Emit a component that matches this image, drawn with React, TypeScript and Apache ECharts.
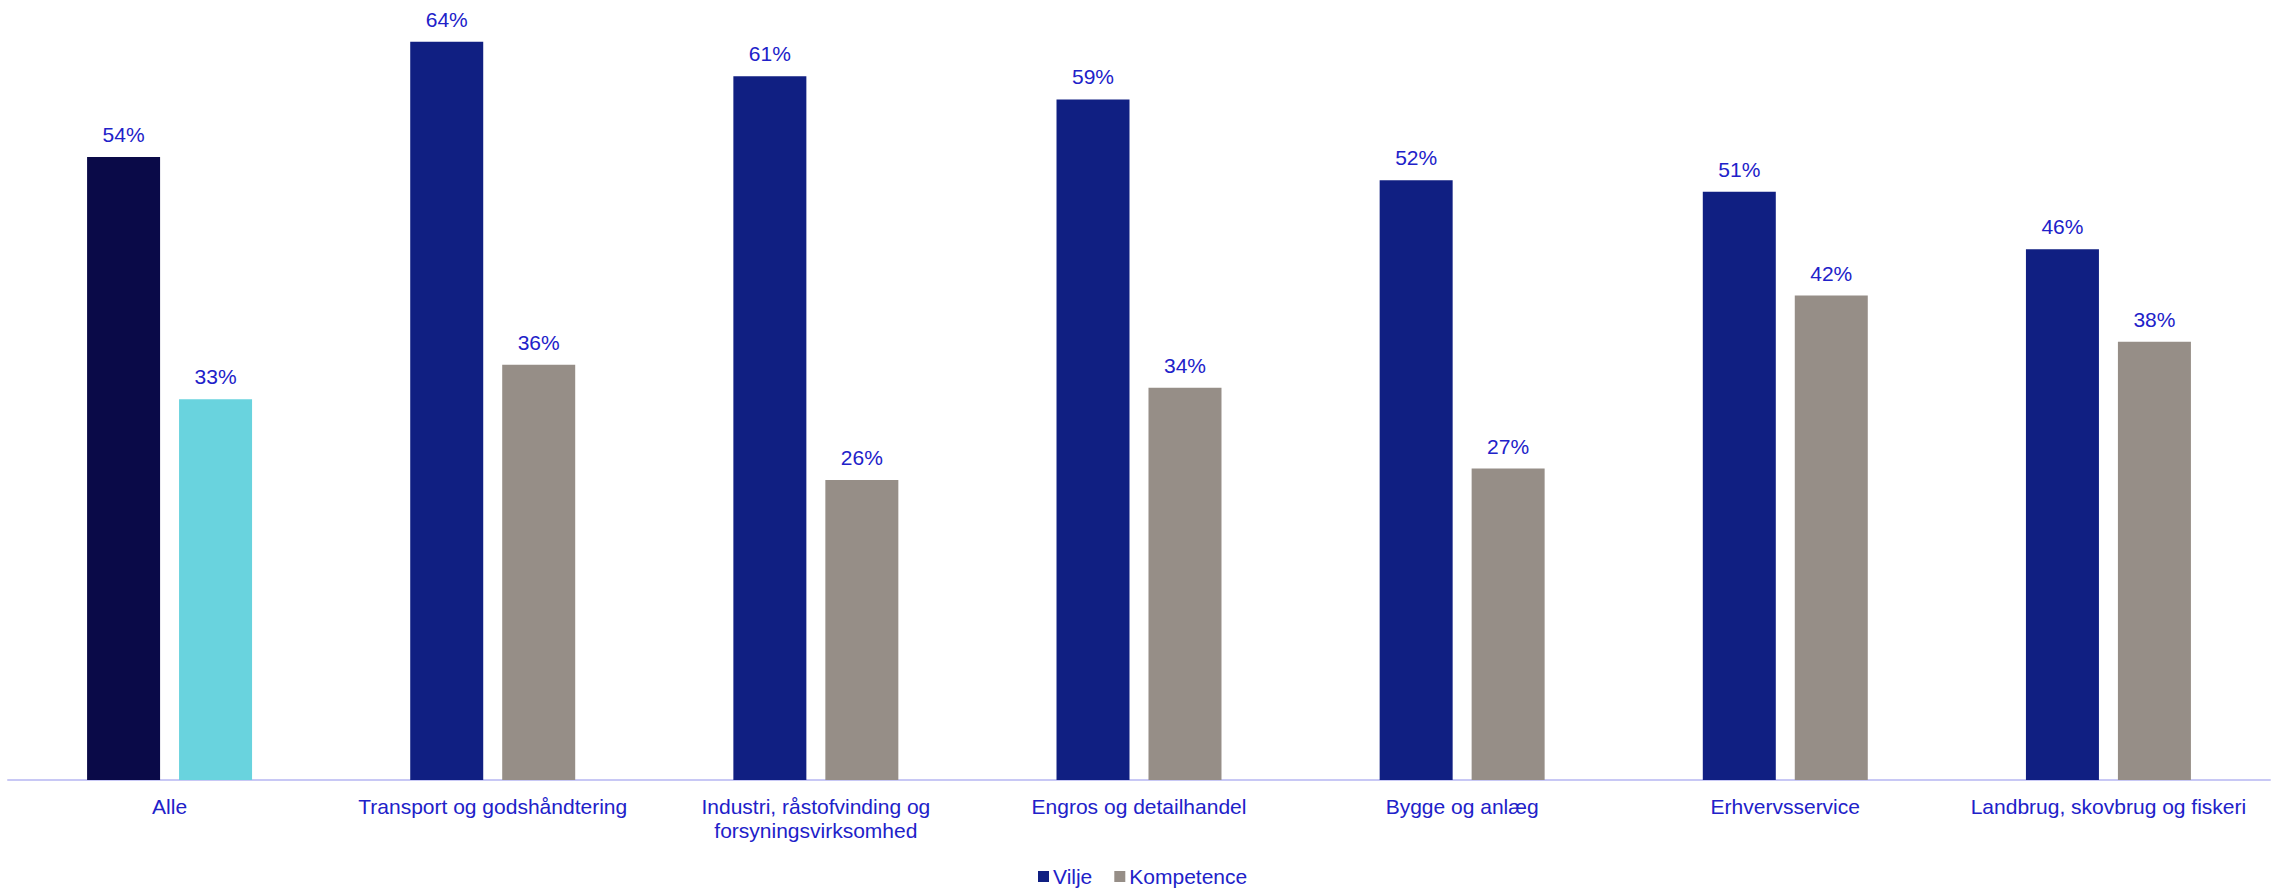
import React, { useEffect, useRef } from "react";
import * as echarts from "echarts";

const categories = [
  "Alle",
  "Transport og godshåndtering",
  "Industri, råstofvinding og\nforsyningsvirksomhed",
  "Engros og detailhandel",
  "Bygge og anlæg",
  "Erhvervsservice",
  "Landbrug, skovbrug og fiskeri",
];
const vilje = [54, 64, 61, 59, 52, 51, 46];
const kompetence = [33, 36, 26, 34, 27, 42, 38];

const TEXT_COLOR = "#2121C9";
const VILJE_COLOR = "#101F82";
const VILJE_ALLE_COLOR = "#0A0A48";
const KOMP_COLOR = "#968E87";
const KOMP_ALLE_COLOR = "#69D3DE";
const FONT = "'Liberation Sans', Arial, Helvetica, sans-serif";

export default function App() {
  const ref = useRef<HTMLDivElement>(null);
  useEffect(() => {
    if (!ref.current) return;
    const chart = echarts.init(ref.current, null, { renderer: "svg" });
    const label = {
      show: true,
      position: "top",
      distance: 12,
      color: TEXT_COLOR,
      fontSize: 21,
      fontFamily: FONT,
      formatter: (p: any) => `${p.value}%`,
    };
    chart.setOption({
      animation: false,
      backgroundColor: "#ffffff",
      textStyle: { fontFamily: FONT },
      grid: { left: 8, right: 2, top: 30.2, bottom: 109, containLabel: false },
      legend: {
        data: ["Vilje", "Kompetence"],
        left: 1038,
        top: 866,
        padding: 0,
        itemWidth: 11,
        itemHeight: 11,
        itemGap: 22,
        textStyle: { color: TEXT_COLOR, fontSize: 21, fontFamily: FONT, padding: [0, 0, 0, -1] },
        icon: "rect",
      },
      xAxis: {
        type: "category",
        data: categories,
        axisTick: { show: false },
        axisLine: { lineStyle: { color: "#C8C8F5", width: 2 } },
        axisLabel: {
          color: TEXT_COLOR,
          fontSize: 21,
          fontFamily: FONT,
          lineHeight: 24,
          margin: 14,
          interval: 0,
        },
      },
      yAxis: {
        type: "value",
        min: 0,
        max: 65,
        show: false,
        splitLine: { show: false },
      },
      series: [
        {
          name: "Vilje",
          type: "bar",
          barWidth: 73,
          barGap: "26%",
          itemStyle: { color: VILJE_COLOR },
          label,
          data: vilje.map((v, i) =>
            i === 0 ? { value: v, itemStyle: { color: VILJE_ALLE_COLOR } } : v
          ),
        },
        {
          name: "Kompetence",
          type: "bar",
          barWidth: 73,
          barGap: "26%",
          itemStyle: { color: KOMP_COLOR },
          label,
          data: kompetence.map((v, i) =>
            i === 0 ? { value: v, itemStyle: { color: KOMP_ALLE_COLOR } } : v
          ),
        },
      ],
    });
    return () => chart.dispose();
  }, []);
  return (
    <div
      ref={ref}
      style={{ position: "absolute", left: 0, top: 0, width: 2272, height: 889 }}
    />
  );
}
